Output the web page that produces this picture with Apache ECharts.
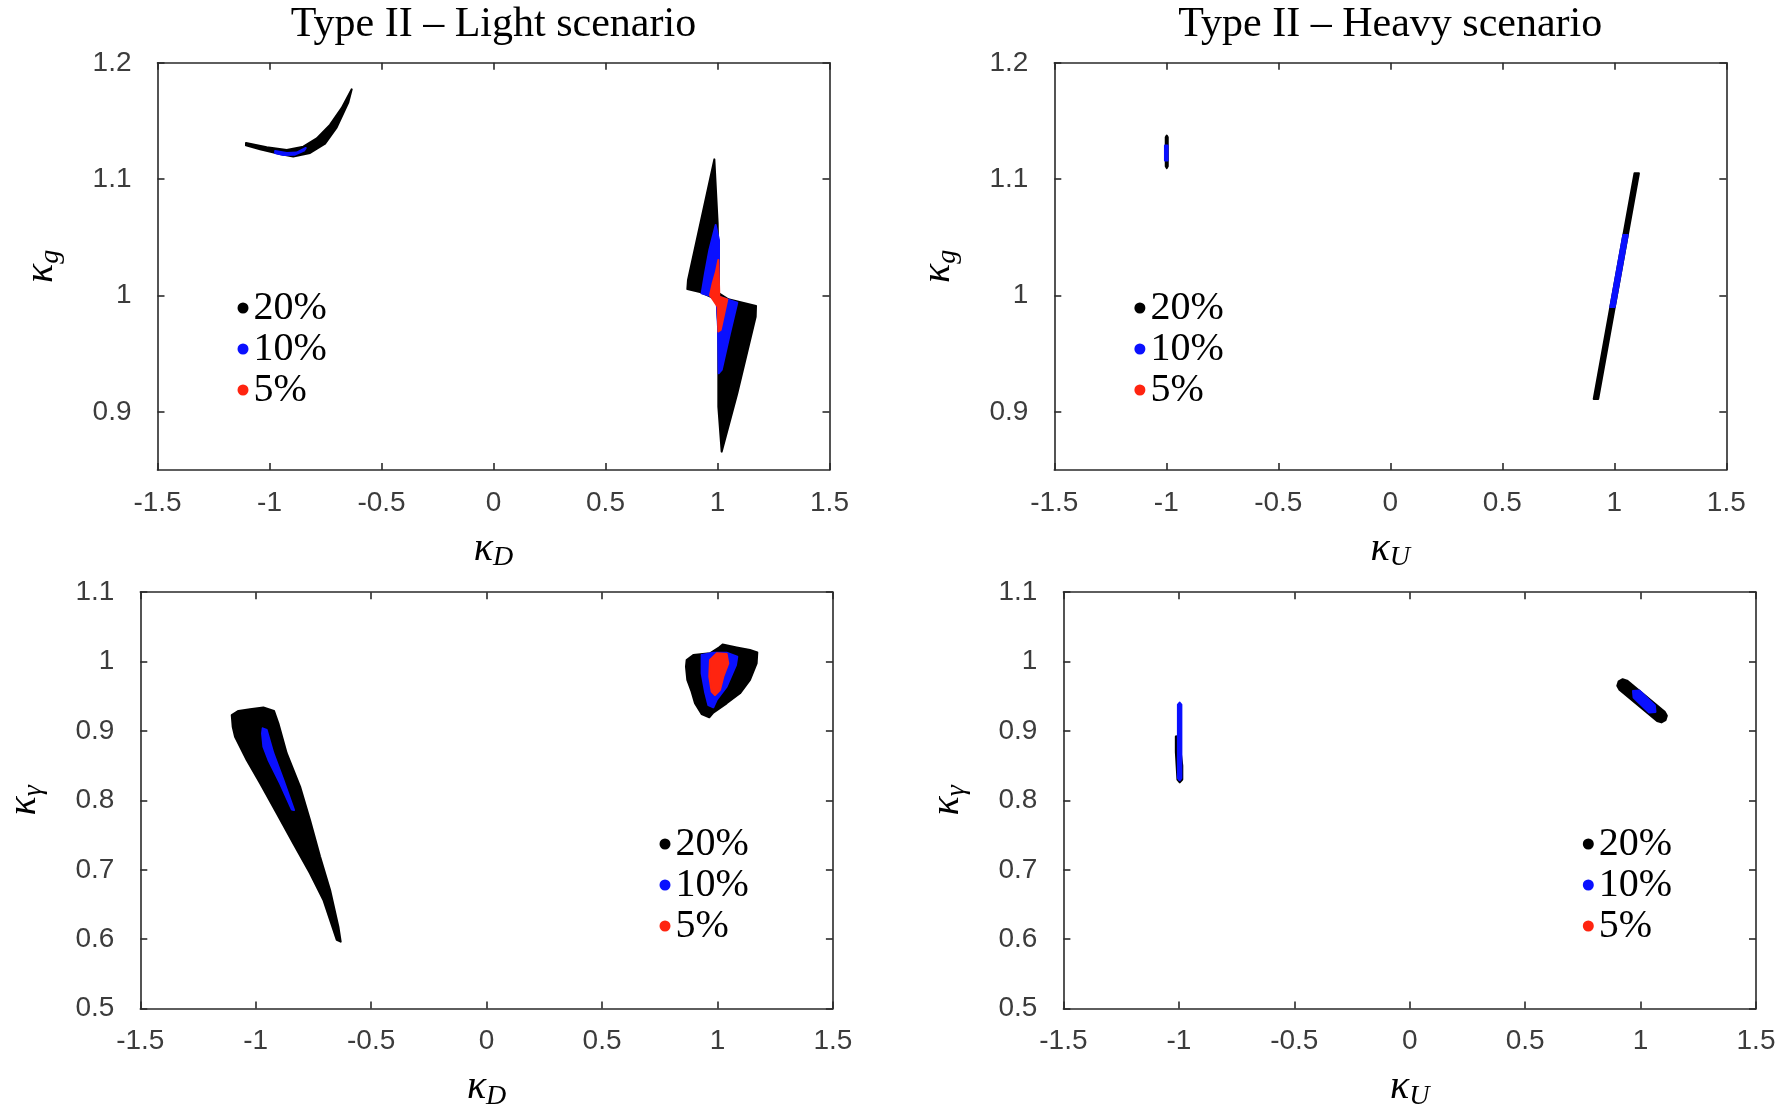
<!DOCTYPE html>
<html>
<head>
<meta charset="utf-8">
<script src="https://cdn.jsdelivr.net/npm/echarts@6/dist/echarts.min.js"></script>
<style>
  html, body { margin: 0; padding: 0; background: #ffffff; }
  #chart { width: 1789px; height: 1105px; }
</style>
</head>
<body>
<div id="chart"></div>
<script>
// Confidence-level regions, each given as outline polygons in data coordinates.
const levelNames = ['20%', '10%', '5%'];
const levelColors = ['#000000', '#0a10ff', '#ff2410'];

const kgTickValues = [0.9, 1.0, 1.1, 1.2];

// Type II light: (κ_D, κ_g)
const lightKgBlack = [
  [[-1.105,1.131],[-1.0125,1.1274],[-0.923,1.125],[-0.849,1.1279],[-0.789,1.135],[-0.730,1.1466],[-0.678,1.161],[-0.633,1.1772],[-0.648,1.166],[-0.700,1.1445],[-0.752,1.1305],[-0.819,1.1225],[-0.894,1.1195],[-0.953,1.1216],[-1.042,1.1257],[-1.105,1.129]],
  [[0.9859,1.1170],[1.0007,1.0620],[1.0067,1.0019],[1.0484,0.9967],[1.1719,0.9910],[1.1704,0.9818],[1.0885,0.9160],[1.0186,0.8658],[1.0037,0.9045],[1.0037,0.9733],[0.9963,0.9967],[0.9219,1.0030],[0.8653,1.0056],[0.8683,1.0134]]
];
const lightKgBlue = [
  [[-0.975,1.1242],[-0.923,1.1225],[-0.879,1.1228],[-0.838,1.1268],[-0.846,1.1245],[-0.886,1.121],[-0.938,1.1208],[-0.975,1.1225]],
  [[0.9918,1.0606],[1.0067,1.0477],[1.0067,0.9990],[1.0885,0.9939],[1.0558,0.9675],[1.0186,0.9360],[1.0052,0.9332],[1.0022,0.9733],[0.9963,0.9947],[0.9635,0.9999],[0.9293,1.0019],[0.9442,1.0191],[0.9635,1.0391]]
];
const lightKgRed = [
  [[1.0037,1.0305],[1.0082,0.9990],[1.0439,0.9967],[1.0335,0.9876],[1.0141,0.9704],[1.0037,0.9690],[1.0007,0.9904],[0.9665,1.0002],[0.9784,1.0105],[0.9933,1.0205]]
];

// Type II heavy: (κ_U, κ_g)
const heavyKgBlack = [
  [[-1.0025,1.136],[-0.998,1.1375],[-0.9935,1.136],[-0.9935,1.111],[-0.998,1.1095],[-1.0025,1.111]],
  [[0.908,0.911],[0.928,0.911],[1.110,1.105],[1.090,1.105]]
];
const heavyKgBlue = [
  [[-1.006,1.129],[-0.994,1.129],[-0.994,1.116],[-1.006,1.116]],
  [[0.982,0.990],[1.002,0.990],[1.060,1.052],[1.040,1.052]]
];
const heavyKgRed = [];

// Type II light: (κ_D, κ_γ)
const lightKaBlack = [
  [[-1.104,0.923],[-1.075,0.929],[-1.0247,0.9312],[-0.967,0.934],[-0.921,0.929],[-0.902,0.911],[-0.866,0.868],[-0.808,0.8198],[-0.765,0.7718],[-0.7215,0.719],[-0.678,0.671],[-0.642,0.618],[-0.632,0.5964],[-0.649,0.599],[-0.707,0.6565],[-0.765,0.695],[-0.837,0.738],[-0.909,0.7814],[-0.981,0.8246],[-1.039,0.8582],[-1.0896,0.8918],[-1.0998,0.9062]],
  [[0.8665,1.0023],[0.8953,1.0095],[0.9675,1.0119],[1.0079,1.0205],[1.0224,1.0245],[1.083,1.0205],[1.1408,1.0167],[1.1725,1.0133],[1.1696,0.9975],[1.1408,0.9735],[1.0975,0.9543],[1.0397,0.9399],[0.982,0.9264],[0.9646,0.9197],[0.9314,0.9245],[0.9026,0.9399],[0.8881,0.9567],[0.8693,0.9735],[0.8636,0.9927]]
];
const lightKaBlue = [
  [[-0.970,0.9038],[-0.9525,0.9014],[-0.9236,0.868],[-0.880,0.8294],[-0.834,0.7862],[-0.844,0.787],[-0.8948,0.8246],[-0.945,0.8582],[-0.967,0.8774],[-0.9727,0.8966]],
  [[0.9314,1.0095],[0.982,1.0129],[1.0397,1.0129],[1.0859,1.0071],[1.0801,0.9951],[1.0397,0.9639],[0.9964,0.9447],[0.982,0.9341],[0.9603,0.9375],[0.9459,0.9567],[0.9314,0.9831]]
];
const lightKaRed = [
  [[0.9675,1.0023],[0.9964,1.0119],[1.0397,1.011],[1.0469,0.9975],[1.0253,0.9783],[1.0108,0.9591],[0.9892,0.9519],[0.9747,0.9567],[0.9646,0.9783]]
];

// Type II heavy: (κ_U, κ_γ)
const heavyKaBlack = [
  [[-1.013,0.892],[-1.0,0.893],[-0.985,0.85],[-0.985,0.83],[-0.996,0.826],[-1.006,0.83],[-1.013,0.87]],
  [[0.9415,0.9726],[1.1044,0.9277],[1.1139,0.9219],[1.1079,0.9156],[1.0905,0.9124],[1.0715,0.9144],[0.9086,0.9594],[0.8991,0.9651],[0.9052,0.9715],[0.9225,0.9746]]
];
const heavyKaBlue = [
  [[-1.004,0.938],[-0.9965,0.941],[-0.989,0.938],[-0.989,0.832],[-0.9965,0.829],[-1.004,0.832]],
  [[0.9948,0.9584],[1.0619,0.9367],[1.0645,0.9275],[1.0368,0.9267],[0.9697,0.9483],[0.9671,0.9575]]
];
const heavyKaRed = [];

const panelTitles = ['Type II \u2013 Light scenario', 'Type II \u2013 Heavy scenario'];

// Panel layout (pixels) and axis setup
const panels = [
  { grid: { left: 157.5, top: 62.8, width: 672, height: 407.2 }, yMin: 0.85, yMax: 1.2, yTicks: kgTickValues,
    xSub: 'D', ySub: 'g', sets: [lightKgBlack, lightKgBlue, lightKgRed], legend: { left: 232.5, top: 277 } },
  { grid: { left: 1054.3, top: 62.8, width: 672, height: 407.2 }, yMin: 0.85, yMax: 1.2, yTicks: kgTickValues,
    xSub: 'U', ySub: 'g', sets: [heavyKgBlack, heavyKgBlue, heavyKgRed], legend: { left: 1129.4, top: 277 } },
  { grid: { left: 140.3, top: 592.2, width: 692.6, height: 416.4 }, yMin: 0.5, yMax: 1.1, yTicks: null,
    xSub: 'D', ySub: '\u03b3', sets: [lightKaBlack, lightKaBlue, lightKaRed], legend: { left: 654.5, top: 813 } },
  { grid: { left: 1063.4, top: 592.2, width: 692.6, height: 416.4 }, yMin: 0.5, yMax: 1.1, yTicks: null,
    xSub: 'U', ySub: '\u03b3', sets: [heavyKaBlack, heavyKaBlue, heavyKaRed], legend: { left: 1577.8, top: 813 } }
];

const axisColor = '#2a2a2a';
const tickFont = { color: '#3c3c3c', fontFamily: 'Liberation Sans, Arial, sans-serif', fontSize: 28 };
const nameRich = {
  k: { fontFamily: 'Liberation Serif, serif', fontStyle: 'italic', fontSize: 40, lineHeight: 40, padding: [0, 0, 6, 0], color: '#000' },
  s: { fontFamily: 'Liberation Serif, serif', fontStyle: 'italic', fontSize: 28, lineHeight: 28, verticalAlign: 'bottom', color: '#000' }
};

function kappa(sub) { return '{k|\u03ba}{s|' + sub + '}'; }

function polygonRenderer(polys, color) {
  return function (params, api) {
    const pts = polys[params.dataIndex].map(function (p) { return api.coord(p); });
    return {
      type: 'polygon',
      shape: { points: pts },
      style: { fill: color, stroke: color, lineWidth: 2, lineJoin: 'round' }
    };
  };
}

const grids = [], xAxes = [], yAxes = [], series = [], legends = [];

panels.forEach(function (p, i) {
  grids.push(Object.assign({ containLabel: false, outerBoundsMode: 'none' }, p.grid));

  const lineStyle = { color: axisColor, width: 1.6 };
  const tick = { show: true, inside: true, length: 7, lineStyle: lineStyle };

  // bottom axis with labels, top axis as mirrored frame
  xAxes.push({
    gridIndex: i, type: 'value', position: 'bottom', min: -1.5, max: 1.5, interval: 0.5,
    axisLine: { show: true, onZero: false, lineStyle: lineStyle },
    axisTick: tick, splitLine: { show: false },
    axisLabel: Object.assign({ margin: 19, showMinLabel: true, showMaxLabel: true }, tickFont),
    name: kappa(p.xSub), nameLocation: 'middle', nameGap: 62,
    nameTextStyle: { rich: nameRich }
  });
  xAxes.push({
    gridIndex: i, type: 'value', position: 'top', min: -1.5, max: 1.5, interval: 0.5,
    axisLine: { show: true, onZero: false, lineStyle: lineStyle },
    axisTick: tick, axisLabel: { show: false }, splitLine: { show: false }
  });

  const yTickCfg = p.yTicks ? Object.assign({ customValues: p.yTicks }, tick) : tick;
  const yLabelCfg = Object.assign({ margin: 26, showMinLabel: true, showMaxLabel: true }, tickFont);
  if (p.yTicks) yLabelCfg.customValues = p.yTicks;

  yAxes.push({
    gridIndex: i, type: 'value', position: 'left', min: p.yMin, max: p.yMax,
    interval: p.yTicks ? undefined : 0.1,
    axisLine: { show: true, onZero: false, lineStyle: lineStyle },
    axisTick: yTickCfg, splitLine: { show: false }, axisLabel: yLabelCfg,
    name: kappa(p.ySub), nameLocation: 'middle', nameGap: 93,
    nameTextStyle: { rich: nameRich }
  });
  yAxes.push({
    gridIndex: i, type: 'value', position: 'right', min: p.yMin, max: p.yMax,
    interval: p.yTicks ? undefined : 0.1,
    axisLine: { show: true, onZero: false, lineStyle: lineStyle },
    axisTick: yTickCfg, axisLabel: { show: false }, splitLine: { show: false }
  });

  p.sets.forEach(function (polys, k) {
    series.push({
      type: 'custom',
      name: levelNames[k],
      coordinateSystem: 'cartesian2d',
      xAxisIndex: 2 * i,
      yAxisIndex: 2 * i,
      itemStyle: { color: levelColors[k] },
      data: polys.map(function (poly) { return poly[0]; }),
      renderItem: polygonRenderer(polys, levelColors[k]),
      z: 2 + k,
      silent: true
    });
  });

  legends.push({
    left: p.legend.left, top: p.legend.top, orient: 'vertical',
    icon: 'circle', itemWidth: 11, itemHeight: 11, itemGap: -11,
    selectedMode: false,
    data: levelNames.map(function (n, k) { return { name: n, itemStyle: { color: levelColors[k] } }; }),
    textStyle: { fontFamily: 'Liberation Serif, serif', fontSize: 40, lineHeight: 30, padding: [0, 0, 22, 0], color: '#000' }
  });
});

const titleCenters = [493.5, 1390.3];
const graphics = panelTitles.map(function (t, i) {
  return {
    type: 'text', x: titleCenters[i], y: 25,
    style: { text: t, fontFamily: 'Liberation Serif, serif', fontSize: 42, fill: '#000',
             align: 'center', verticalAlign: 'middle', textAlign: 'center', textVerticalAlign: 'middle' }
  };
});

const chart = echarts.init(document.getElementById('chart'));
chart.setOption({
  animation: false,
  backgroundColor: '#ffffff',
  grid: grids,
  xAxis: xAxes,
  yAxis: yAxes,
  legend: legends,
  series: series,
  graphic: graphics
});
</script>
</body>
</html>
